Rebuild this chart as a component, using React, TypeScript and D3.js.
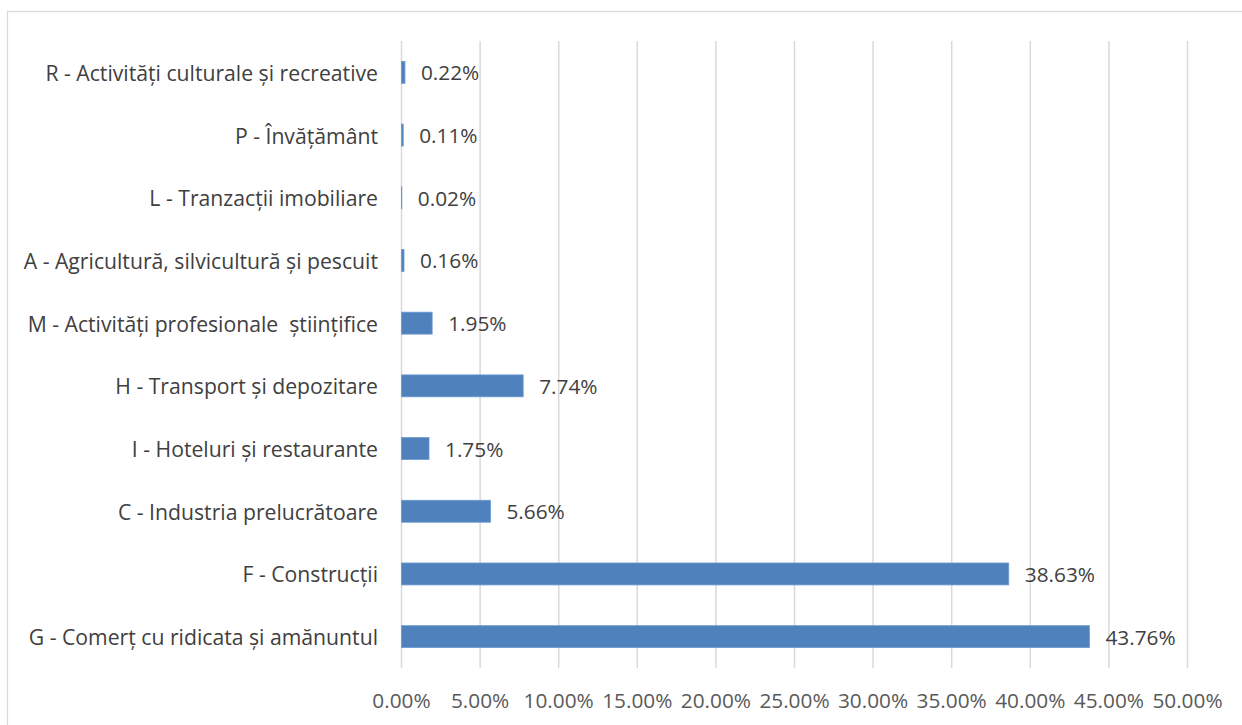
import React from "react";
import * as d3 from "d3";

const categories = [
  "R - Activități culturale și recreative",
  "P - Învățământ",
  "L - Tranzacții imobiliare",
  "A - Agricultură, silvicultură și pescuit",
  "M - Activități profesionale  științifice",
  "H - Transport și depozitare",
  "I - Hoteluri și restaurante",
  "C - Industria prelucrătoare",
  "F - Construcții",
  "G - Comerț cu ridicata și amănuntul",
];
const values = [0.22, 0.11, 0.02, 0.16, 1.95, 7.74, 1.75, 5.66, 38.63, 43.76];
const ticks = [0, 5, 10, 15, 20, 25, 30, 35, 40, 45, 50];

const W = 1242;
const H = 725;
const plot = { left: 401.5, right: 1187.5, top: 41, bottom: 668 };
const font = "'Open Sans', sans-serif";

export default function App() {
  const x = d3.scaleLinear().domain([0, 50]).range([plot.left, plot.right]);
  const y = d3
    .scaleBand<string>()
    .domain(categories)
    .range([plot.top, plot.bottom])
    .paddingInner(0.65)
    .paddingOuter(0.325);

  return (
    <svg
      width={W}
      height={H}
      style={{ position: "absolute", left: 0, top: 0, background: "#fff" }}
    >
      <rect x={7.5} y={11.5} width={W + 20} height={H + 20} fill="#fff" stroke="#D9D9D9" strokeWidth={1.2} />
      {ticks.map((t) => (
        <line
          key={"g" + t}
          x1={x(t)}
          x2={x(t)}
          y1={plot.top}
          y2={plot.bottom}
          stroke="#D9D9D9"
          strokeWidth={1.5}
        />
      ))}
      {categories.map((c, i) => {
        const yy = y(c)!;
        const bw = y.bandwidth();
        const v = values[i];
        return (
          <g key={c}>
            <rect
              x={x(0)}
              y={yy}
              width={Math.max(0, x(v) - x(0))}
              height={bw}
              fill="#4F81BD"
              stroke="#6D9AD3"
              strokeWidth={0.8}
            />
            <text
              x={378}
              y={yy + bw / 2}
              textAnchor="end"
              dominantBaseline="central"
              fontFamily={font}
              fontSize={21.2}
              fill="#404040"
              style={{ whiteSpace: "pre" }}
            >
              {c}
            </text>
            <text
              x={x(v) + 16}
              y={yy + bw / 2}
              textAnchor="start"
              dominantBaseline="central"
              fontFamily={font}
              fontSize={20.8}
              fill="#404040"
            >
              {v.toFixed(2) + "%"}
            </text>
          </g>
        );
      })}
      {ticks.map((t) => (
        <text
          key={"t" + t}
          x={x(t)}
          y={700}
          textAnchor="middle"
          dominantBaseline="central"
          fontFamily={font}
          fontSize={20.8}
          fill="#595959"
        >
          {t.toFixed(2) + "%"}
        </text>
      ))}
    </svg>
  );
}
